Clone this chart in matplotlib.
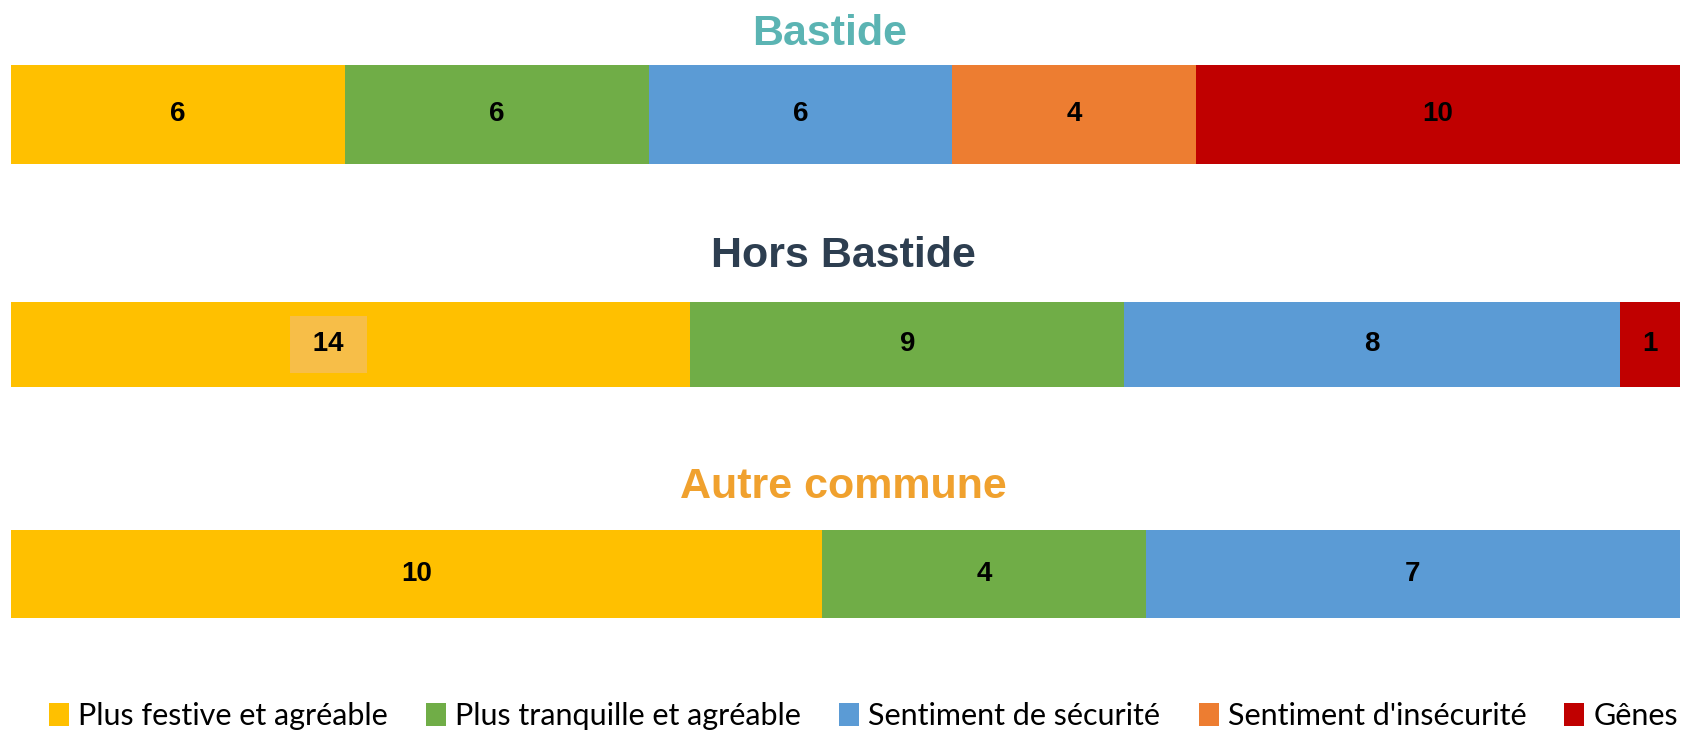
import matplotlib
matplotlib.use('Agg')
import matplotlib.pyplot as plt
from matplotlib.patches import Patch

# categories (legend order)
categories = ['Plus festive et agréable', 'Plus tranquille et agréable',
              'Sentiment de sécurité', "Sentiment d'insécurité", 'Gênes']
colors = ['#FFC000', '#70AD47', '#5B9BD5', '#ED7D31', '#C00000']

groups = ['Bastide', 'Hors Bastide', 'Autre commune']
title_colors = ['#5BB4B3', '#2D3E50', '#F0A12E']

# counts shown as labels (0 = category absent)
counts_bastide = [6, 6, 6, 4, 10]
counts_hors = [14, 9, 8, 0, 1]
counts_autre = [10, 4, 7, 0, 0]

# segment widths (% of bar)
share_bastide = [20.0, 18.2, 18.2, 14.6, 29.0]
share_hors = [40.7, 26.0, 29.7, 0, 3.6]
share_autre = [48.6, 19.4, 32.0, 0, 0]

counts = [counts_bastide, counts_hors, counts_autre]
shares = [share_bastide, share_hors, share_autre]

fig = plt.figure(figsize=(16.87, 7.34), dpi=100)

# axes boxes (left, bottom, width, height) in figure fraction
boxes = [(0.0065, 0.7766, 0.9893, 0.135),
         (0.0065, 0.4728, 0.9893, 0.116),
         (0.0065, 0.158, 0.9893, 0.12)]
title_y = [0.953, 0.651, 0.337]
title_x = [0.492, 0.5, 0.5]

for i in range(3):
    ax = fig.add_axes(boxes[i])
    left = 0
    for j, (w, c) in enumerate(zip(shares[i], counts[i])):
        if c == 0:
            continue
        ax.barh(0, w, left=left, height=1.0, color=colors[j], edgecolor='none')
        if i == 1 and j == 0:
            # highlighted label with lighter box
            ax.text(left + w * 0.467, 0, ' ' + str(c) + ' ', ha='center', va='center',
                    fontsize=20, fontweight='bold', family='Liberation Sans',
                    color='black',
                    bbox=dict(boxstyle='square,pad=0.55', facecolor='#F7BE48',
                              edgecolor='none'))
        else:
            ax.text(left + w / 2, 0, str(c), ha='center', va='center',
                    fontsize=20, fontweight='bold', family='Liberation Sans',
                    color='black')
        left += w
    ax.set_xlim(0, 100)
    ax.set_ylim(-0.5, 0.5)
    ax.axis('off')
    fig.text(title_x[i], title_y[i], groups[i], ha='center', va='center',
             fontsize=31, fontweight='bold', family='Liberation Sans',
             color=title_colors[i])

handles = [Patch(facecolor=c, edgecolor='none') for c in colors]
fig.legend(handles, categories, loc='center', bbox_to_anchor=(0.512, 0.0245),
           ncol=5, frameon=False, prop={'family': 'Lato', 'size': 22},
           handlelength=0.65, handleheight=0.8, handletextpad=0.3,
           columnspacing=1.25, borderaxespad=0)

fig.savefig('out.png', dpi=100)
